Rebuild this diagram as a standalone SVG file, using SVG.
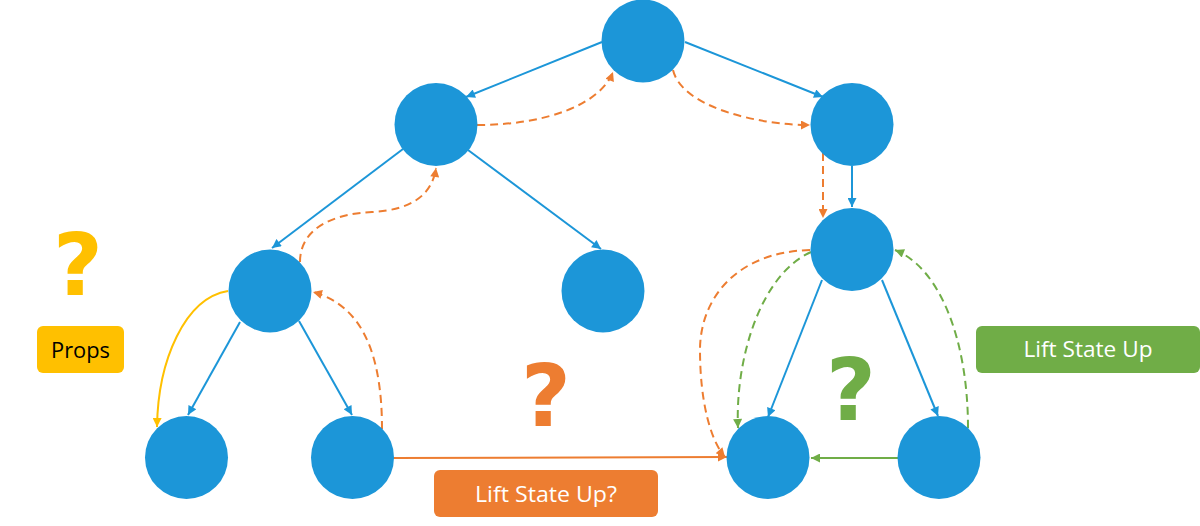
<svg xmlns="http://www.w3.org/2000/svg" width="1200" height="526" viewBox="0 0 1200 526">
<style>
.node{fill:#1c96d8}
.b{stroke:#1c96d8;stroke-width:2;fill:none}
.o{stroke:#ed7d31;stroke-width:2;fill:none}
.g{stroke:#70ad47;stroke-width:2;fill:none}
.y{stroke:#ffc000;stroke-width:2;fill:none}
.d{stroke-dasharray:8,5}
.lbl{font-family:"Open Sans","Liberation Sans",sans-serif;font-size:22px;text-anchor:middle}
.q{font-family:"DejaVu Sans","Liberation Sans",sans-serif;font-weight:bold;font-size:86px;text-anchor:middle}
</style>
<defs>
<marker id="ab" viewBox="0 0 10 10" refX="10" refY="5" markerWidth="11" markerHeight="9" markerUnits="userSpaceOnUse" orient="auto"><path d="M0,0 L10,5 L0,10 z" fill="#1c96d8"/></marker>
<marker id="ao" viewBox="0 0 10 10" refX="10" refY="5" markerWidth="11" markerHeight="9" markerUnits="userSpaceOnUse" orient="auto"><path d="M0,0 L10,5 L0,10 z" fill="#ed7d31"/></marker>
<marker id="ag" viewBox="0 0 10 10" refX="10" refY="5" markerWidth="11" markerHeight="9" markerUnits="userSpaceOnUse" orient="auto"><path d="M0,0 L10,5 L0,10 z" fill="#70ad47"/></marker>
<marker id="ay" viewBox="0 0 10 10" refX="10" refY="5" markerWidth="11" markerHeight="9" markerUnits="userSpaceOnUse" orient="auto"><path d="M0,0 L10,5 L0,10 z" fill="#ffc000"/></marker>
</defs>
<g id="connectors">
<path class="b" d="M602,42 L466,97" marker-end="url(#ab)"/>
<path class="b" d="M685,42 L823,97" marker-end="url(#ab)"/>
<path class="b" d="M403,149 L272,248" marker-end="url(#ab)"/>
<path class="b" d="M468,150 L601,249" marker-end="url(#ab)"/>
<path class="b" d="M852,166 L852,207" marker-end="url(#ab)"/>
<path class="b" d="M240,322 L188,415" marker-end="url(#ab)"/>
<path class="b" d="M299,321 L352,415" marker-end="url(#ab)"/>
<path class="b" d="M822,280 L768,417" marker-end="url(#ab)"/>
<path class="b" d="M882,280 L938,416" marker-end="url(#ab)"/>
<path class="o d" d="M477,125 C545,125 600,105 613,72" marker-end="url(#ao)"/>
<path class="o d" d="M673,70 C682,108 760,125 810,125" marker-end="url(#ao)"/>
<path class="o d" d="M823,153 L823,218" marker-end="url(#ao)"/>
<path class="o d" d="M300,262 C300,230 330,214 372,212 C410,210 432,196 436,168" marker-end="url(#ao)"/>
<path class="o d" d="M382,429 C382,350 360,305 313,292" marker-end="url(#ao)"/>
<path class="o d" d="M810,250 C735,252 700,300 700,350 C700,400 710,440 725,457" marker-end="url(#ao)"/>
<path class="o" d="M393,458 L727,457" marker-end="url(#ao)"/>
<path class="g d" d="M811,252 C760,275 735,360 738,428" marker-end="url(#ag)"/>
<path class="g d" d="M968,428 C968,340 940,268 895,250" marker-end="url(#ag)"/>
<path class="g" d="M898,458 L811,458" marker-end="url(#ag)"/>
<path class="y" d="M228,291 C185,298 158,360 157,427" marker-end="url(#ay)"/>
</g>
<g id="n-root"><circle class="node" cx="643" cy="41" r="41.5"/></g>
<g id="n-l1"><circle class="node" cx="436" cy="124.5" r="41.5"/></g>
<g id="n-r1"><circle class="node" cx="852" cy="124.5" r="41.5"/></g>
<g id="n-ll"><circle class="node" cx="270" cy="291" r="41.5"/></g>
<g id="n-lr"><circle class="node" cx="603" cy="291" r="41.5"/></g>
<g id="n-rr"><circle class="node" cx="852" cy="249.5" r="41.5"/></g>
<g id="n-leaf1"><circle class="node" cx="186.5" cy="457.5" r="41.5"/></g>
<g id="n-leaf2"><circle class="node" cx="352.5" cy="457.5" r="41.5"/></g>
<g id="n-leaf3"><circle class="node" cx="768" cy="457.5" r="41.5"/></g>
<g id="n-leaf4"><circle class="node" cx="939" cy="457.5" r="41.5"/></g>
<g id="props">
<text class="q" x="78" y="295" fill="#ffc000">?</text>
<rect x="37" y="326" width="87" height="47" rx="6" fill="#ffc000"/>
<text class="lbl" x="80.5" y="358" fill="#000" textLength="59" lengthAdjust="spacingAndGlyphs">Props</text>
</g>
<g id="lift-q">
<text class="q" x="546" y="426" fill="#ed7d31">?</text>
<rect x="434" y="470" width="224" height="47" rx="6" fill="#ed7d31"/>
<text class="lbl" x="546" y="502" fill="#fff" textLength="142" lengthAdjust="spacingAndGlyphs">Lift State Up?</text>
</g>
<g id="lift">
<text class="q" x="851" y="420" fill="#70ad47">?</text>
<rect x="976" y="326" width="224" height="47" rx="6" fill="#70ad47"/>
<text class="lbl" x="1088" y="357" fill="#fff" textLength="129" lengthAdjust="spacingAndGlyphs">Lift State Up</text>
</g>
</svg>
